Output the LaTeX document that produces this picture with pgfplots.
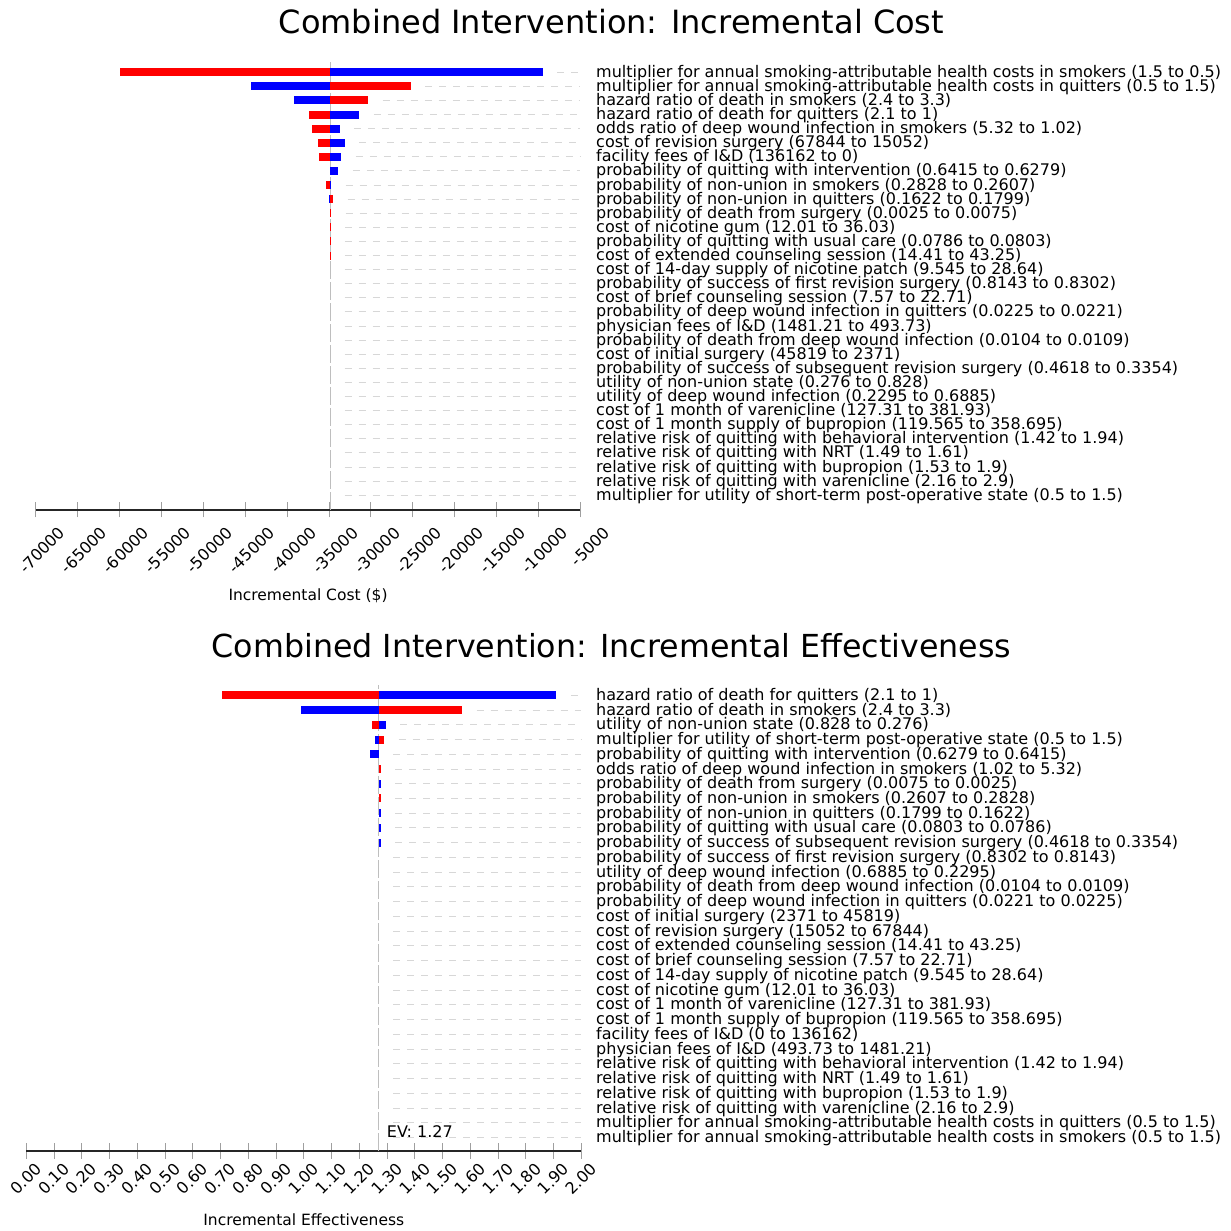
\documentclass[border=0pt]{standalone}
\usepackage{pgfplots}
\pgfplotsset{compat=1.18}
\usepackage{pgfplotstable}
\usepackage{fontspec}
\setmainfont{DejaVu Sans}
\newcommand{\lf}{\fontsize{16}{16}\selectfont}
\newcommand{\tf}{\fontsize{16}{16}\selectfont}
\newcommand{\af}{\fontsize{15.5}{15.5}\selectfont}
\definecolor{barred}{RGB}{255,0,0}
\definecolor{barblue}{RGB}{0,0,255}
\definecolor{dashgray}{RGB}{215,215,215}
\definecolor{evgray}{RGB}{190,190,190}

% Incremental cost: y (row, 31 = top), red end, blue end
\pgfplotstableread{
y red blue
31 -59900 -9500
30 -25220 -44280
29 -30340 -39120
28 -37430 -31390
27 -36990 -33690
26 -36290 -33150
25 -36160 -33510
24 -34880 -33870
23 -35320 -34750
22 -34520 -35060
21 -34750 -34880
20 -34780 -34880
19 -34830 -34880
18 -34840 -34880
17 -34880 -34880
16 -34880 -34880
15 -34880 -34880
14 -34880 -34880
13 -34880 -34880
12 -34880 -34880
11 -34880 -34880
10 -34880 -34880
9 -34880 -34880
8 -34880 -34880
7 -34880 -34880
6 -34880 -34880
5 -34880 -34880
4 -34880 -34880
3 -34880 -34880
2 -34880 -34880
1 -34880 -34880
}\costdata

% Incremental effectiveness
\pgfplotstableread{
y red blue
31 0.705 1.910
30 1.571 0.991
29 1.245 1.296
28 1.290 1.257
27 1.270 1.240
26 1.2775 1.270
25 1.270 1.2775
24 1.2775 1.270
23 1.270 1.2775
22 1.270 1.2775
21 1.270 1.2775
20 1.270 1.270
19 1.270 1.270
18 1.270 1.270
17 1.270 1.270
16 1.270 1.270
15 1.270 1.270
14 1.270 1.270
13 1.270 1.270
12 1.270 1.270
11 1.270 1.270
10 1.270 1.270
9 1.270 1.270
8 1.270 1.270
7 1.270 1.270
6 1.270 1.270
5 1.270 1.270
4 1.270 1.270
3 1.270 1.270
2 1.270 1.270
1 1.270 1.270
}\effdata

\pgfplotsset{
  tornado/.style={
    scale only axis, anchor=south west, clip=false,
    scaled x ticks=false,
    axis x line*=bottom, axis y line*=right,
    x axis line style={draw=black!85, line width=1.2pt},
    y axis line style={draw=none},
    xtick align=center, major tick length=15pt,
    xtick style={draw=gray!75, line width=0.9pt},
    ytick={1,...,31}, ytick style={draw=none},
    every axis x label/.style={at={(axis description cs:0.5,0)}, anchor=base, font=\af},
  },
  barplot/.style={draw=none, mark=none, forget plot,
    error bars/.cd, x dir=plus, x explicit, error mark=none,
    error bar style={draw=#1, line width=8pt}},
  dashplot/.style={draw=none, mark=none, forget plot,
    error bars/.cd, x dir=plus, x explicit, error mark=none,
    error bar style={draw=dashgray, line width=1pt, dash pattern=on 7pt off 7pt}},
}

\begin{document}
\begin{tikzpicture}
\path[use as bounding box] (0,0) rectangle (1231pt,1231pt);

\node[anchor=base, font=\fontsize{32}{32}\selectfont, inner sep=0pt] at (611.5pt,1197.5pt) {Combined Intervention: Incremental Cost};
\node[anchor=base, font=\fontsize{31.7}{31.7}\selectfont, inner sep=0pt] at (611.5pt,573pt) {Combined Intervention: Incremental Effectiveness};

% ---------------- top: incremental cost ----------------
\begin{axis}[tornado,
  at={(35.7pt,721pt)}, width=544.7pt, height=448pt,
  xmin=-70000, xmax=-5000, ymin=-0.0426, ymax=31.73,
  xtick={-70000,-65000,-60000,-55000,-50000,-45000,-40000,-35000,-30000,-25000,-20000,-15000,-10000,-5000},
  xticklabels={-70000,-65000,-60000,-55000,-50000,-45000,-40000,-35000,-30000,-25000,-20000,-15000,-10000,-5000},
  xticklabel style={xshift=22pt, yshift=-8pt, rotate=45, anchor=north east, inner sep=0pt, font=\tf},
  xlabel={Incremental Cost (\$)},
  xlabel style={yshift=-91pt},
  yticklabel style={anchor=base west, inner sep=0pt, xshift=15.6pt, yshift=-5pt, font=\lf},
  yticklabels={
    {multiplier for utility of short-term post-operative state (0.5 to 1.5)},
    {relative risk of quitting with varenicline (2.16 to 2.9)},
    {relative risk of quitting with bupropion (1.53 to 1.9)},
    {relative risk of quitting with NRT (1.49 to 1.61)},
    {relative risk of quitting with behavioral intervention (1.42 to 1.94)},
    {cost of 1 month supply of bupropion (119.565 to 358.695)},
    {cost of 1 month of varenicline (127.31 to 381.93)},
    {utility of deep wound infection (0.2295 to 0.6885)},
    {utility of non-union state (0.276 to 0.828)},
    {probability of success of subsequent revision surgery (0.4618 to 0.3354)},
    {cost of initial surgery (45819 to 2371)},
    {probability of death from deep wound infection (0.0104 to 0.0109)},
    {physician fees of I\&D (1481.21 to 493.73)},
    {probability of deep wound infection in quitters (0.0225 to 0.0221)},
    {cost of brief counseling session (7.57 to 22.71)},
    {probability of success of first revision surgery (0.8143 to 0.8302)},
    {cost of 14-day supply of nicotine patch (9.545 to 28.64)},
    {cost of extended counseling session (14.41 to 43.25)},
    {probability of quitting with usual care (0.0786 to 0.0803)},
    {cost of nicotine gum (12.01 to 36.03)},
    {probability of death from surgery (0.0025 to 0.0075)},
    {probability of non-union in quitters (0.1622 to 0.1799)},
    {probability of non-union in smokers (0.2828 to 0.2607)},
    {probability of quitting with intervention (0.6415 to 0.6279)},
    {facility fees of I\&D (136162 to 0)},
    {cost of revision surgery (67844 to 15052)},
    {odds ratio of deep wound infection in smokers (5.32 to 1.02)},
    {hazard ratio of death for quitters (2.1 to 1)},
    {hazard ratio of death in smokers (2.4 to 3.3)},
    {multiplier for annual smoking-attributable health costs in quitters (0.5 to 1.5)},
    {multiplier for annual smoking-attributable health costs in smokers (1.5 to 0.5)}},
]
\addplot[draw=evgray, line width=0.9pt, dash pattern=on 18pt off 3pt, forget plot]
  coordinates {(-34880,-0.0426) (-34880,31.73)};
\addplot[dashplot] table[y=y,
  x expr={max(max(\thisrow{red},\thisrow{blue}),-34880)+1730},
  x error expr={-5000-max(max(\thisrow{red},\thisrow{blue}),-34880)-1730}] {\costdata};
\addplot[barplot=barred] table[y=y, x expr=-34880, x error expr={\thisrow{red}+34880}] {\costdata};
\addplot[barplot=barblue] table[y=y, x expr=-34880, x error expr={\thisrow{blue}+34880}] {\costdata};
\end{axis}

% ---------------- bottom: incremental effectiveness ----------------
\begin{axis}[tornado,
  at={(26.2pt,80pt)}, width=555.2pt, height=466pt,
  xmin=0, xmax=2, ymin=0.084, ymax=31.7,
  xtick={0,0.1,0.2,0.3,0.4,0.5,0.6,0.7,0.8,0.9,1,1.1,1.2,1.3,1.4,1.5,1.6,1.7,1.8,1.9,2},
  xticklabels={0.00,0.10,0.20,0.30,0.40,0.50,0.60,0.70,0.80,0.90,1.00,1.10,1.20,1.30,1.40,1.50,1.60,1.70,1.80,1.90,2.00},
  xticklabel style={xshift=8pt, yshift=-3pt, rotate=45, anchor=north east, inner sep=0pt, font=\tf},
  xlabel={Incremental Effectiveness},
  xlabel style={yshift=-74pt},
  yticklabel style={anchor=base west, inner sep=0pt, xshift=14.6pt, yshift=-5pt, font=\lf},
  yticklabels={
    {multiplier for annual smoking-attributable health costs in smokers (0.5 to 1.5)},
    {multiplier for annual smoking-attributable health costs in quitters (0.5 to 1.5)},
    {relative risk of quitting with varenicline (2.16 to 2.9)},
    {relative risk of quitting with bupropion (1.53 to 1.9)},
    {relative risk of quitting with NRT (1.49 to 1.61)},
    {relative risk of quitting with behavioral intervention (1.42 to 1.94)},
    {physician fees of I\&D (493.73 to 1481.21)},
    {facility fees of I\&D (0 to 136162)},
    {cost of 1 month supply of bupropion (119.565 to 358.695)},
    {cost of 1 month of varenicline (127.31 to 381.93)},
    {cost of nicotine gum (12.01 to 36.03)},
    {cost of 14-day supply of nicotine patch (9.545 to 28.64)},
    {cost of brief counseling session (7.57 to 22.71)},
    {cost of extended counseling session (14.41 to 43.25)},
    {cost of revision surgery (15052 to 67844)},
    {cost of initial surgery (2371 to 45819)},
    {probability of deep wound infection in quitters (0.0221 to 0.0225)},
    {probability of death from deep wound infection (0.0104 to 0.0109)},
    {utility of deep wound infection (0.6885 to 0.2295)},
    {probability of success of first revision surgery (0.8302 to 0.8143)},
    {probability of success of subsequent revision surgery (0.4618 to 0.3354)},
    {probability of quitting with usual care (0.0803 to 0.0786)},
    {probability of non-union in quitters (0.1799 to 0.1622)},
    {probability of non-union in smokers (0.2607 to 0.2828)},
    {probability of death from surgery (0.0075 to 0.0025)},
    {odds ratio of deep wound infection in smokers (1.02 to 5.32)},
    {probability of quitting with intervention (0.6279 to 0.6415)},
    {multiplier for utility of short-term post-operative state (0.5 to 1.5)},
    {utility of non-union state (0.828 to 0.276)},
    {hazard ratio of death in smokers (2.4 to 3.3)},
    {hazard ratio of death for quitters (2.1 to 1)}},
]
\addplot[draw=evgray, line width=0.9pt, dash pattern=on 18pt off 3pt, forget plot]
  coordinates {(1.27,0.084) (1.27,31.7)};
\addplot[dashplot] table[y=y,
  x expr={max(max(\thisrow{red},\thisrow{blue}),1.27)+0.052},
  x error expr={2-max(max(\thisrow{red},\thisrow{blue}),1.27)-0.052}] {\effdata};
\addplot[barplot=barred] table[y=y, x expr=1.27, x error expr={\thisrow{red}-1.27}] {\effdata};
\addplot[barplot=barblue] table[y=y, x expr=1.27, x error expr={\thisrow{blue}-1.27}] {\effdata};
\node[anchor=base west, inner sep=0pt, font=\lf, xshift=8pt] at (axis cs:1.27,1) {EV: 1.27};
\end{axis}
\end{tikzpicture}
\end{document}
